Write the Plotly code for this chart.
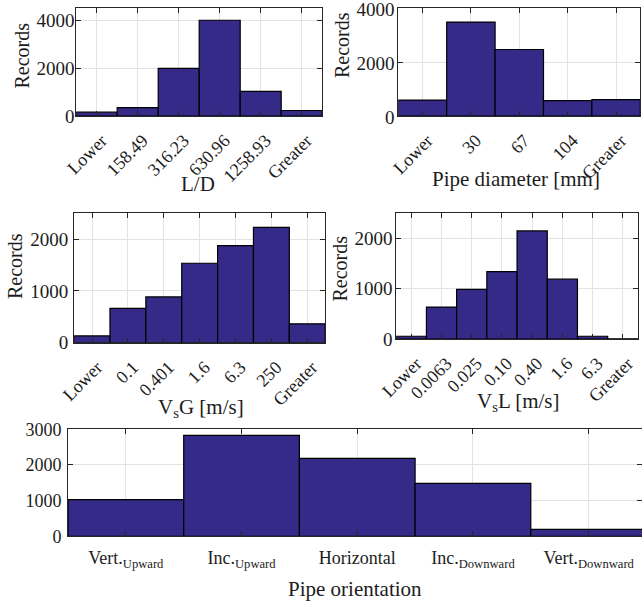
import plotly.graph_objects as go

W, H = 642, 604

# ---------------- data ----------------
ld_cats = ["Lower", "158.49", "316.23", "630.96", "1258.93", "Greater"]
ld_vals = [160, 350, 1990, 4000, 1030, 230]

pd_cats = ["Lower", "30", "67", "104", "Greater"]
pd_vals = [590, 3490, 2470, 570, 610]

vsg_cats = ["Lower", "0.1", "0.401", "1.6", "6.3", "250", "Greater"]
vsg_vals = [130, 665, 885, 1535, 1875, 2230, 365]

vsl_cats = ["Lower", "0.0063", "0.025", "0.10", "0.40", "1.6", "6.3", "Greater"]
vsl_vals = [55, 635, 985, 1340, 2150, 1190, 55, 5]

or_cats = ["Vert. Upward", "Inc. Upward", "Horizontal", "Inc. Downward", "Vert. Downward"]
or_labels = ["Vert.<sub>Upward</sub>", "Inc.<sub>Upward</sub>", "Horizontal",
             "Inc.<sub>Downward</sub>", "Vert.<sub>Downward</sub>"]
or_vals = [1027, 2830, 2185, 1485, 195]

# ---------------- style ----------------
BAR = "#352A87"
AX = "#262626"
TXT = "#1c1c1c"
GRID = "#e3e3e3"
FONT = "Liberation Serif"


def px_x(a, b):
    return [a / W, min(b / W, 1.0)]


def px_y(top, bot):
    return [1 - bot / H, 1 - top / H]


panels = [
    dict(c=ld_cats, v=ld_vals, xd=(76.2, 322.2), yd=(8.3, 116.0), yr=4500,
         yt=[0, 2000, 4000], ang=-45, xf=18, yf=19, yso=-3, ysh=0, xsh=5, xso=6),
    dict(c=pd_cats, v=pd_vals, xd=(398.3, 640.3), yd=(8.3, 116.0), yr=4000,
         yt=[0, 2000, 4000], ang=-45, xf=18, yf=19, yso=-1, ysh=1, xsh=5, xso=6),
    dict(c=vsg_cats, v=vsg_vals, xd=(74.1, 325.2), yd=(213.3, 342.7), yr=2500,
         yt=[0, 1000, 2000], ang=-45, xf=18, yf=19, yso=1, ysh=0, xsh=5, xso=6),
    dict(c=vsl_cats, v=vsl_vals, xd=(396.2, 637.9), yd=(213.3, 339.0), yr=2500,
         yt=[0, 1000, 2000], ang=-45, xf=18, yf=19, yso=-1, ysh=0, xsh=5, xso=6),
    dict(c=or_cats, v=or_vals, xd=(68.0, 646.5), yd=(429.3, 536.3), yr=3000,
         yt=[0, 1000, 2000, 3000], ang=0, tt=or_labels, xf=18, yf=18, yso=2,
         ysh=0, xsh=0, xso=5),
]

fig = go.Figure()
layout = dict(
    width=W, height=H,
    margin=dict(l=0, r=0, t=0, b=0),
    paper_bgcolor="white", plot_bgcolor="white",
    showlegend=False, bargap=0,
    font=dict(family=FONT, size=18, color=TXT),
)

for i, p in enumerate(panels, start=1):
    xa = "x" if i == 1 else f"x{i}"
    ya = "y" if i == 1 else f"y{i}"
    n = len(p["c"])
    fig.add_trace(go.Bar(
        x=p["c"], y=p["v"], xaxis=xa, yaxis=ya, width=1.0,
        marker=dict(color=BAR, line=dict(color="black", width=1.2)),
        hoverinfo="skip",
    ))
    x0, x1 = p["xd"]
    bw = (x1 - x0) / n
    xend = min(x1, W)
    xmax = -0.5 + (xend - x0) / bw
    xkey = "xaxis" if i == 1 else f"xaxis{i}"
    ykey = "yaxis" if i == 1 else f"yaxis{i}"
    layout[xkey] = dict(
        domain=px_x(x0, xend), anchor=ya, type="category",
        categoryorder="array", categoryarray=p["c"],
        range=[-0.5, xmax],
        tickvals=p["c"], ticktext=p.get("tt", p["c"]),
        tickangle=p["ang"],
        showgrid=True, gridcolor=GRID, gridwidth=1,
        showline=True, linecolor=AX, linewidth=1, mirror="allticks",
        ticks="inside", ticklen=5, tickcolor=AX,
        tickfont=dict(family=FONT, size=p["xf"], color=TXT),
        ticklabelshift=p["xsh"], ticklabelstandoff=p["xso"],
        ticklabeloverflow="allow",
        fixedrange=True, automargin=False,
    )
    layout[ykey] = dict(
        domain=px_y(*p["yd"]), anchor=xa,
        range=[0, p["yr"]], tickvals=p["yt"],
        showgrid=True, gridcolor=GRID, gridwidth=1, zeroline=False,
        showline=True, linecolor=AX, linewidth=1, mirror="allticks",
        ticks="inside", ticklen=5, tickcolor=AX,
        tickfont=dict(family=FONT, size=p["yf"], color=TXT),
        ticklabelstandoff=p["yso"], ticklabelshift=p["ysh"],
        ticklabeloverflow="allow",
        fixedrange=True, automargin=False,
    )

fig.update_layout(**layout)

titles = [
    ("Records", 21.5, 55, -90, 20),
    ("Records", 342, 45, -90, 20),
    ("Records", 15, 266, -90, 20),
    ("Records", 339.5, 269, -90, 20),
    ("L/D", 198, 184, 0, 21),
    ("Pipe diameter [mm]", 516, 179, 0, 21),
    ("V<sub>s</sub>G [m/s]", 201, 408, 0, 21),
    ("V<sub>s</sub>L [m/s]", 518, 402, 0, 21),
    ("Pipe orientation", 355, 589, 0, 21),
]
for txt, x, y, ang, fs in titles:
    fig.add_annotation(
        text=txt, x=x / W, y=1 - y / H, xref="paper", yref="paper",
        xanchor="center", yanchor="middle", showarrow=False, textangle=ang,
        font=dict(family=FONT, size=fs, color=TXT),
    )

fig.write_html(
    "out.html",
    config={"displayModeBar": False, "staticPlot": True},
    post_script="document.body.style.margin='0';document.body.style.overflow='hidden';",
)
